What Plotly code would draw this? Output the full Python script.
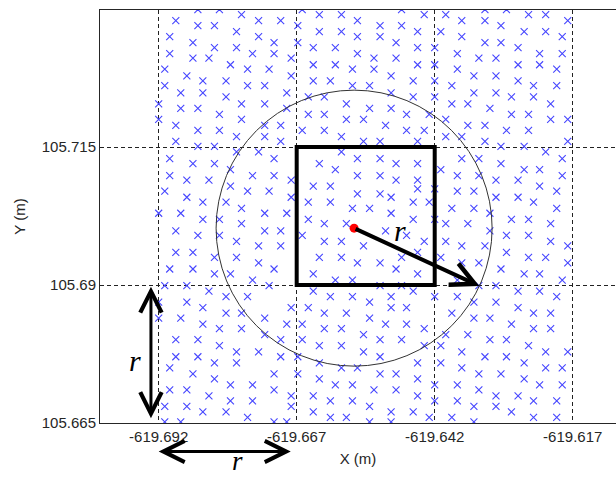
import plotly.graph_objects as go
import math

# ---------------- data ----------------
X_TICKS = [-619.692, -619.667, -619.642, -619.617]
X_TICK_TEXT = ["-619.692", "-619.667", "-619.642", "-619.617"]
Y_TICKS = [105.665, 105.69, 105.715]
Y_TICK_TEXT = ["105.665", "105.69", "105.715"]

# sample points, row by row (y value, list of x values)
ROW_Y = [
    105.7399, 105.7390, 105.7379, 105.7370, 105.7359, 105.7350, 105.7339, 105.7330,
    105.7319, 105.7311, 105.7299, 105.7291, 105.7279, 105.7270, 105.7261, 105.7248,
    105.7241, 105.7228, 105.7220, 105.7209, 105.7200, 105.7189, 105.7180, 105.7169,
    105.7160, 105.7151, 105.7141, 105.7129, 105.7120, 105.7109, 105.7098, 105.7090,
    105.7079, 105.7074, 105.7070, 105.7065, 105.7059, 105.7050, 105.7039, 105.7030,
    105.7019, 105.7011, 105.6998, 105.6990, 105.6979, 105.6971, 105.6959, 105.6950,
    105.6940, 105.6929, 105.6920, 105.6909, 105.6899, 105.6889, 105.6879, 105.6869,
    105.6859, 105.6849, 105.6840, 105.6829, 105.6821, 105.6810, 105.6801, 105.6790,
    105.6779, 105.6770, 105.6759, 105.6750, 105.6739, 105.6730, 105.6719, 105.6710,
    105.6699, 105.6690, 105.6680, 105.6670, 105.6660, 105.6652,
]
ROW_X = [
    [-619.6849, -619.6810, -619.6660, -619.6480, -619.6329, -619.6290],
    [-619.6770, -619.6629, -619.6589, -619.6439, -619.6400, -619.6250, -619.6219],
    [-619.6889, -619.6739, -619.6699, -619.6560, -619.6371, -619.6329, -619.6179],
    [-619.6849, -619.6819, -619.6668, -619.6519, -619.6480, -619.6300],
    [-619.6779, -619.6629, -619.6589, -619.6451, -619.6409, -619.6258, -619.6219],
    [-619.6900, -619.6739, -619.6560, -619.6519, -619.6371, -619.6189],
    [-619.6858, -619.6711, -619.6668, -619.6490, -619.6329, -619.6300],
    [-619.6819, -619.6779, -619.6640, -619.6600, -619.6451, -619.6420, -619.6269],
    [-619.6900, -619.6750, -619.6711, -619.6560, -619.6379, -619.6230, -619.6189],
    [-619.6858, -619.6829, -619.6680, -619.6530, -619.6490, -619.6340, -619.6309],
    [-619.6790, -619.6640, -619.6600, -619.6451, -619.6420, -619.6269, -619.6230],
    [-619.6909, -619.6759, -619.6720, -619.6569, -619.6530, -619.6379, -619.6199],
    [-619.6869, -619.6680, -619.6499, -619.6349, -619.6309],
    [-619.6840, -619.6798, -619.6640, -619.6609, -619.6459, -619.6420, -619.6269],
    [-619.6909, -619.6759, -619.6728, -619.6569, -619.6538, -619.6389, -619.6241, -619.6199],
    [-619.6880, -619.6840, -619.6688, -619.6499, -619.6349, -619.6309],
    [-619.6798, -619.6649, -619.6620, -619.6459, -619.6420, -619.6281, -619.6241],
    [-619.6920, -619.6770, -619.6728, -619.6580, -619.6389, -619.6360, -619.6210],
    [-619.6880, -619.6849, -619.6688, -619.6538, -619.6499, -619.6320],
    [-619.6810, -619.6649, -619.6620, -619.6471, -619.6430, -619.6281, -619.6250],
    [-619.6920, -619.6770, -619.6580, -619.6549, -619.6400, -619.6210, -619.6179],
    [-619.6889, -619.6728, -619.6699, -619.6509, -619.6360, -619.6329],
    [-619.6849, -619.6810, -619.6660, -619.6620, -619.6471, -619.6439, -619.6290, -619.6250],
    [-619.6779, -619.6728, -619.6589, -619.6400, -619.6371],
    [-619.6889, -619.6699, -619.6549, -619.6519, -619.6451, -619.6329, -619.6179],
    [-619.6849, -619.6819, -619.6300, -619.6258],
    [-619.6779, -619.6739, -619.6589, -619.6219],
    [-619.6900, -619.6711, -619.6560, -619.6519, -619.6371, -619.6340, -619.6189],
    [-619.6858, -619.6819, -619.6629, -619.6490, -619.6451, -619.6300],
    [-619.6790, -619.6600, -619.6409, -619.6258, -619.6230],
    [-619.6900, -619.6750, -619.6711, -619.6560, -619.6519, -619.6379, -619.6340, -619.6189],
    [-619.6869, -619.6829, -619.6680, -619.6490, -619.6451, -619.6309, -619.6269],
    [-619.6790, -619.6640, -619.6609, -619.6230],
    [-619.6451, -619.6420],
    [-619.6909, -619.6759, -619.6720, -619.6379, -619.6349, -619.6199],
    [-619.6560, -619.6519],
    [-619.6869, -619.6680, -619.6499, -619.6309, -619.6269],
    [-619.6840, -619.6798, -619.6649, -619.6609, -619.6459, -619.6430, -619.6241],
    [-619.6770, -619.6569, -619.6538, -619.6389, -619.6349, -619.6199],
    [-619.6920, -619.6880, -619.6728, -619.6688, -619.6499, -619.6320],
    [-619.6840, -619.6810, -619.6649, -619.6459, -619.6420, -619.6281, -619.6250],
    [-619.6770, -619.6620, -619.6580, -619.6400, -619.6360, -619.6210],
    [-619.6889, -619.6728, -619.6699, -619.6509, -619.6320],
    [-619.6849, -619.6810, -619.6660, -619.6471, -619.6290, -619.6250],
    [-619.6779, -619.6620, -619.6589, -619.6439, -619.6400, -619.6210],
    [-619.6739, -619.6699, -619.6549, -619.6371, -619.6329, -619.6179],
    [-619.6889, -619.6858, -619.6451, -619.6290],
    [-619.6819, -619.6779, -619.6629, -619.6589, -619.6480, -619.6409, -619.6250, -619.6219],
    [-619.6739, -619.6560, -619.6519, -619.6371, -619.6340, -619.6179],
    [-619.6900, -619.6858, -619.6711, -619.6490, -619.6300],
    [-619.6819, -619.6790, -619.6640, -619.6451, -619.6258, -619.6230],
    [-619.6750, -619.6600, -619.6569, -619.6379, -619.6189],
    [-619.6909, -619.6869, -619.6720, -619.6519, -619.6480, -619.6340, -619.6309],
    [-619.6829, -619.6640, -619.6459, -619.6269, -619.6230],
    [-619.6798, -619.6759, -619.6609, -619.6569, -619.6499, -619.6420, -619.6379, -619.6199],
    [-619.6920, -619.6869, -619.6538, -619.6349, -619.6309],
    [-619.6840, -619.6680, -619.6649, -619.6499, -619.6471, -619.6269],
    [-619.6798, -619.6770, -619.6620, -619.6580, -619.6389, -619.6241, -619.6210],
    [-619.6920, -619.6880, -619.6728, -619.6538, -619.6349, -619.6320],
    [-619.6840, -619.6688, -619.6660, -619.6509, -619.6471, -619.6281],
    [-619.6810, -619.6770, -619.6620, -619.6589, -619.6439, -619.6241, -619.6210],
    [-619.6728, -619.6549, -619.6400, -619.6360],
    [-619.6889, -619.6849, -619.6699, -619.6660, -619.6519, -619.6480, -619.6320, -619.6290],
    [-619.6810, -619.6629, -619.6589, -619.6439, -619.6409, -619.6250],
    [-619.6779, -619.6739, -619.6549, -619.6371, -619.6219, -619.6179],
    [-619.6889, -619.6849, -619.6699, -619.6668, -619.6519, -619.6329, -619.6290],
    [-619.6819, -619.6779, -619.6629, -619.6451, -619.6409, -619.6258],
    [-619.6900, -619.6589, -619.6560, -619.6371, -619.6219, -619.6189],
    [-619.6858, -619.6711, -619.6668, -619.6519, -619.6490, -619.6340, -619.6300],
    [-619.6819, -619.6629, -619.6451, -619.6258],
    [-619.6790, -619.6750, -619.6600, -619.6569, -619.6420, -619.6379, -619.6230, -619.6189],
    [-619.6900, -619.6869, -619.6711, -619.6530, -619.6490, -619.6340],
    [-619.6829, -619.6680, -619.6640, -619.6451, -619.6309, -619.6269],
    [-619.6790, -619.6750, -619.6609, -619.6569, -619.6420, -619.6379, -619.6241, -619.6199],
    [-619.6909, -619.6869, -619.6680, -619.6538, -619.6349, -619.6309],
    [-619.6840, -619.6798, -619.6640, -619.6499, -619.6459, -619.6281],
    [-619.6759, -619.6609, -619.6580, -619.6430, -619.6389, -619.6241, -619.6199],
    [-619.6909, -619.6880, -619.6711, -619.6688, -619.6538, -619.6499, -619.6349],
]

CENTER_X = -619.6566
CENTER_Y = 105.7003
RADIUS = 0.025
ARROW_ANGLE_DEG = -24.8

CELL_X = [-619.667, -619.642]
CELL_Y = [105.69, 105.715]

X_RANGE = [-619.70263, -619.60916]
Y_RANGE = [105.665, 105.73982]

# ---------------- build ----------------
pts_x, pts_y = [], []
for yv, xs in zip(ROW_Y, ROW_X):
    for xv in xs:
        pts_x.append(xv)
        pts_y.append(yv)

fig = go.Figure()
fig.add_trace(go.Scatter(
    x=pts_x, y=pts_y, mode="markers",
    marker=dict(symbol="x-thin", size=7, color="rgb(70,70,255)",
                line=dict(width=1.1, color="rgb(70,70,255)")),
    showlegend=False, hoverinfo="skip"))

fig.add_trace(go.Scatter(
    x=[CENTER_X], y=[CENTER_Y], mode="markers",
    marker=dict(symbol="circle", size=9, color="red"),
    showlegend=False, hoverinfo="skip"))

fig.add_shape(type="circle", xref="x", yref="y",
              x0=CENTER_X - RADIUS, x1=CENTER_X + RADIUS,
              y0=CENTER_Y - RADIUS, y1=CENTER_Y + RADIUS,
              line=dict(color="#333333", width=1))
fig.add_shape(type="rect", xref="x", yref="y",
              x0=CELL_X[0], x1=CELL_X[1], y0=CELL_Y[0], y1=CELL_Y[1],
              line=dict(color="black", width=4))

a = math.radians(ARROW_ANGLE_DEG)
tip_x = CENTER_X + RADIUS * math.cos(a)
tip_y = CENTER_Y + RADIUS * math.sin(a)

r_font = dict(family="Liberation Serif", size=30, color="black")

# radius arrow
fig.add_annotation(x=tip_x, y=tip_y, ax=CENTER_X, ay=CENTER_Y,
                   xref="x", yref="y", axref="x", ayref="y",
                   text="", showarrow=True, arrowhead=5, arrowsize=1.15,
                   arrowwidth=4, arrowcolor="black")
fig.add_annotation(x=-619.6483, y=105.6998, xref="x", yref="y", text="<i>r</i>",
                   showarrow=False, xanchor="center", yanchor="middle", font=r_font)

# vertical double arrow (left)
fig.add_annotation(x=-619.6934, y=105.6897, xref="x", yref="y",
                   ax=0, ay=105.6656, axref="pixel", ayref="y",
                   text="", showarrow=True, arrowhead=5, startarrowhead=5,
                   arrowside="end+start", arrowsize=1.4, startarrowsize=1.4,
                   arrowwidth=3, arrowcolor="black")
fig.add_annotation(x=-619.6963, y=105.6764, xref="x", yref="y", text="<i>r</i>",
                   showarrow=False, xanchor="center", yanchor="middle", font=r_font)

# horizontal double arrow (below x axis)
fig.add_annotation(x=-619.6920, y=-0.069, xref="x", yref="paper",
                   ax=-619.6678, ay=0, axref="x", ayref="pixel",
                   text="", showarrow=True, arrowhead=5, startarrowhead=5,
                   arrowside="end+start", arrowsize=1.4, startarrowsize=1.4,
                   arrowwidth=3, arrowcolor="black")
fig.add_annotation(x=-619.6778, y=-0.1305, xref="x", yref="paper", text="<i>r</i>",
                   showarrow=False, xanchor="center", yanchor="bottom",
                   borderpad=0, font=dict(family="Liberation Serif", size=27, color="black"))

axis_font = dict(family="Liberation Sans, Arial", size=15, color="#262626")
fig.update_xaxes(range=X_RANGE, tickvals=X_TICKS, ticktext=X_TICK_TEXT,
                 showgrid=True, gridcolor="#222222", gridwidth=1, griddash="4px,3px",
                 zeroline=False, showline=True, linecolor="#262626", linewidth=1,
                 mirror=True, ticks="", tickfont=axis_font,
                 title=dict(text="X (m)", font=axis_font, standoff=9))
fig.update_yaxes(range=Y_RANGE, tickvals=Y_TICKS, ticktext=Y_TICK_TEXT,
                 showgrid=True, gridcolor="#222222", gridwidth=1, griddash="4px,3px",
                 zeroline=False, showline=True, linecolor="#262626", linewidth=1,
                 mirror=False, ticks="", tickfont=axis_font,
                 title=dict(text="Y (m)", font=axis_font, standoff=12))

fig.update_layout(width=616, height=477,
                  margin=dict(l=100, r=0, t=10, b=54),
                  plot_bgcolor="white", paper_bgcolor="white",
                  showlegend=False)

fig.write_html("out.html")
